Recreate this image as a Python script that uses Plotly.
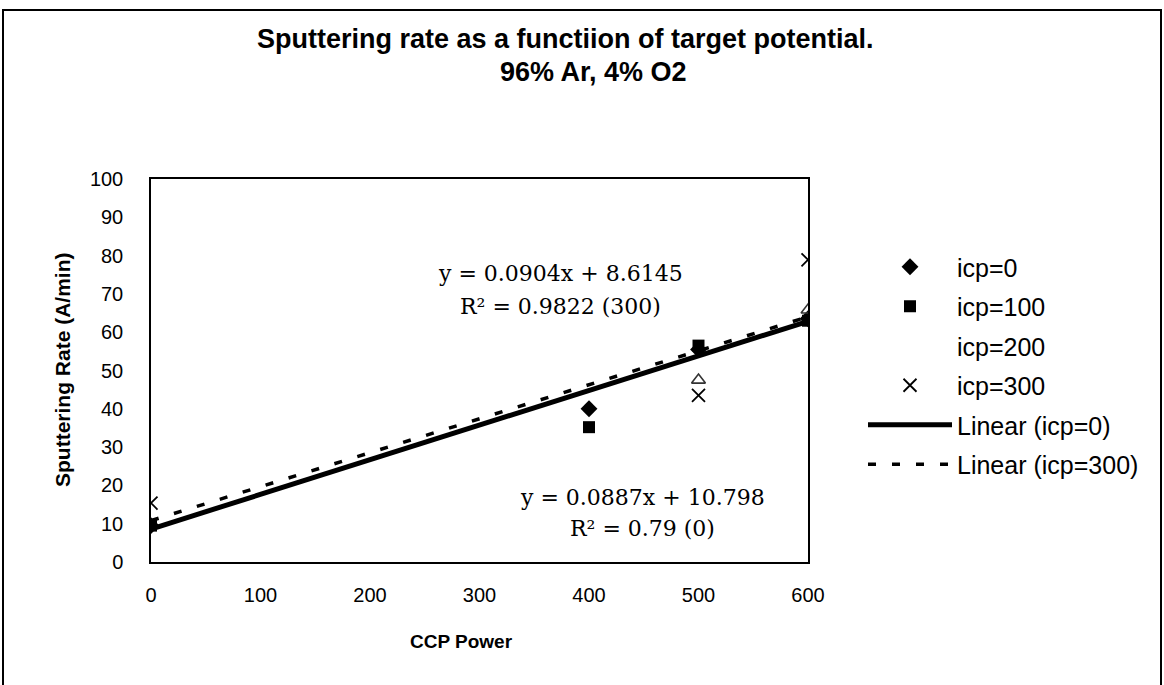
import plotly.graph_objects as go

# ---- data ----
ccp_x = [0, 400, 500, 600]
icp0_y = [9.5, 40.0, 55.5, 63.5]
icp100_y = [9.5, 35.2, 56.5, 63.0]
icp200_x = [500, 600]
icp200_y = [47.5, 65.8]
icp300_x = [0, 500, 600]
icp300_y = [15.4, 43.5, 78.9]

# trendline coefficients as printed on the chart
fit0_slope, fit0_intercept = 0.0904, 8.6145      # Linear (icp=0)
fit300_slope, fit300_intercept = 0.0887, 10.798  # Linear (icp=300)
fit_x = [0, 600]

x_ticks = [0, 100, 200, 300, 400, 500, 600]
y_ticks = [0, 10, 20, 30, 40, 50, 60, 70, 80, 90, 100]

W, H = 1164, 685
L, R, T, B = 151, 808, 179, 562  # plot area in pixels

def px(xp):
    return (xp - L) / (R - L)

def py(yp):
    return (B - yp) / (B - T)

SANS = "Liberation Sans, Arial, sans-serif"
SERIF = "DejaVu Serif, Liberation Serif, serif"

fig = go.Figure()

fig.add_trace(go.Scatter(
    x=ccp_x, y=icp0_y, mode="markers", name="icp=0", legendgroup="a",
    marker=dict(symbol="diamond", size=13, color="black")))
fig.add_trace(go.Scatter(
    x=ccp_x, y=icp100_y, mode="markers", name="icp=100", legendgroup="b",
    marker=dict(symbol="square", size=12, color="black")))
fig.add_trace(go.Scatter(
    x=icp200_x, y=icp200_y, mode="markers", name="icp=200", showlegend=False,
    legendgroup="c",
    marker=dict(symbol="triangle-up-open", size=12, color="#333",
                line=dict(width=1.6, color="#333"))))
fig.add_trace(go.Scatter(
    x=[None], y=[None], mode="markers", name="icp=200", legendgroup="c",
    marker=dict(symbol="circle", size=1, color="rgba(255,255,255,0)")))
fig.add_trace(go.Scatter(
    x=icp300_x, y=icp300_y, mode="markers", name="icp=300", legendgroup="d",
    marker=dict(symbol="x-thin-open", size=13, color="black",
                line=dict(width=1.8, color="black"))))

fit0_y = [fit0_slope * v + fit0_intercept for v in fit_x]
fit300_y = [fit300_slope * v + fit300_intercept for v in fit_x]

fig.add_trace(go.Scatter(
    x=fit_x, y=fit0_y, mode="lines", name="Linear (icp=0)", legendgroup="e",
    line=dict(color="black", width=5)))
fig.add_trace(go.Scatter(
    x=fit_x, y=fit300_y, mode="lines", name="Linear (icp=300)", legendgroup="f",
    line=dict(color="black", width=3.5, dash="8px,16px")))

# outer chart border
fig.add_shape(type="rect", xref="paper", yref="paper",
              x0=px(3), x1=px(1161), y0=py(700), y1=py(10),
              line=dict(color="black", width=2), layer="below")

def ann(text, x, y, font, xanchor="center", angle=0):
    fig.add_annotation(x=px(x), y=py(y), xref="paper", yref="paper",
                       text=text, showarrow=False, font=font, textangle=angle,
                       xanchor=xanchor, yanchor="middle")

title_font = dict(family=SANS, size=27, color="black")
ann("<b>Sputtering rate as a functiion of target potential.</b>", 565, 39, title_font)
ann("<b>96% Ar, 4% O2</b>", 593, 72, title_font)

ann_font = dict(family=SERIF, size=22, color="black")
ann("y = 0.0904x + 8.6145", 560, 273, ann_font)
ann("R² = 0.9822 (300)", 560, 306, ann_font)
ann("y = 0.0887x + 10.798", 642, 497, ann_font)
ann("R² = 0.79 (0)", 642, 528, ann_font)

ann("<b>CCP Power</b>", 461, 641, dict(family=SANS, size=19, color="black"))
ann("<b>Sputtering Rate (A/min)</b>", 62, 370, dict(family=SANS, size=21, color="black"),
    angle=-90)

fig.update_layout(
    width=W, height=H,
    margin=dict(l=L, r=W - R, t=T, b=H - B, autoexpand=False),
    paper_bgcolor="white", plot_bgcolor="white",
    showlegend=True,
    legend=dict(x=px(863), y=py(244), xanchor="left", yanchor="top",
                font=dict(family=SANS, size=25, color="black"),
                bgcolor="rgba(0,0,0,0)", itemwidth=84, tracegroupgap=4,
                traceorder="grouped"),
    xaxis=dict(range=[0, 600], tickvals=x_ticks, ticktext=[str(v) for v in x_ticks],
               showgrid=False, zeroline=False, showline=True, linecolor="black",
               linewidth=1.5, mirror=True, ticks="",
               ticklabelstandoff=14,
               tickfont=dict(family=SANS, size=20, color="black")),
    yaxis=dict(range=[0, 100], tickvals=y_ticks, ticktext=[str(v) for v in y_ticks],
               showgrid=False, zeroline=False, showline=True, linecolor="black",
               linewidth=1.5, mirror=True, ticks="",
               ticklabelstandoff=22,
               tickfont=dict(family=SANS, size=20, color="black")),
)

fig.write_html("out.html")
